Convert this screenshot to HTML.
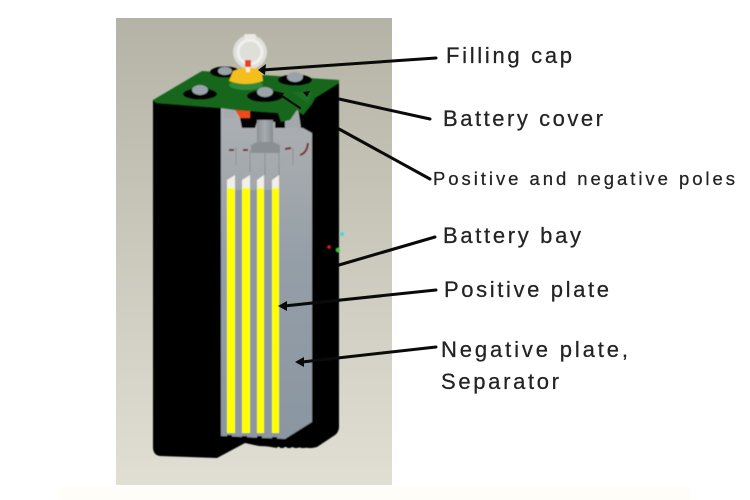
<!DOCTYPE html>
<html lang="en">
<head>
<meta charset="utf-8">
<title>Battery diagram</title>
<style>
html,body{margin:0;padding:0;background:#fff;width:750px;height:500px;overflow:hidden}
svg{display:block}
text{font-family:"Liberation Sans",sans-serif;fill:#232323;stroke:#232323;stroke-width:0.25}
</style>
</head>
<body>
<svg width="750" height="500" viewBox="0 0 750 500" xmlns="http://www.w3.org/2000/svg">
<defs>
<linearGradient id="bg" x1="0" y1="0" x2="0" y2="1">
<stop offset="0" stop-color="#b5b3a6"/>
<stop offset="0.45" stop-color="#c9c7ba"/>
<stop offset="1" stop-color="#e1ded4"/>
</linearGradient>
<linearGradient id="plate" gradientUnits="userSpaceOnUse" x1="0" y1="108" x2="0" y2="439">
<stop offset="0" stop-color="#acb0b3"/>
<stop offset="0.22" stop-color="#a3a8ac"/>
<stop offset="0.45" stop-color="#959fa8"/>
<stop offset="1" stop-color="#8a96a1"/>
</linearGradient>
<linearGradient id="post" x1="0" y1="0" x2="1" y2="0">
<stop offset="0" stop-color="#8d9298"/>
<stop offset="0.5" stop-color="#a6abb0"/>
<stop offset="1" stop-color="#878c92"/>
</linearGradient>
<filter id="soft" x="-5%" y="-5%" width="110%" height="110%"><feGaussianBlur stdDeviation="0.5"/></filter>
</defs>
<rect x="60" y="487" width="630" height="13" fill="#fffdf8"/>
<rect x="116" y="18" width="276" height="467" fill="url(#bg)"/>

<g filter="url(#soft)">
<!-- black body -->
<path d="M153 100 L339 82 L339 428 Q338 433 335 435 L317 447 L312 448 L259 446 L245 443 L217 458 L160 456 Q153 455 153 447 Z" fill="#000"/>

<!-- grey interior -->
<path d="M221 108 L312 108 L312 422 L285 439 L221 436 Z" fill="url(#plate)"/>
<!-- black space under the cover -->
<path d="M236 108 L312 108 L312 133 L303 128 L275 128 L275 122 L257 122 L255 128 L242 128 L240 118 Z" fill="#000"/>
<path d="M224 106 L234 106 L235 118 L224 118 Z" fill="#a6aaae"/>
<path d="M285 112 L298 108 L301 128 L285 128 Z" fill="#a3a8ac"/>
<path d="M235 110 L250 111 L250 118 L240 118 Z" fill="#f0491b"/>
<rect x="257" y="120" width="16" height="30" fill="url(#post)"/>
<path d="M251 145 L257 142 H273 L280 145 V153 H251 Z" fill="#8a8f94"/>
<g stroke="#8c9196" stroke-width="1" fill="none">
<path d="M236 147 V165 M250 150 V172 M265 152 V175 M279 152 V175 M293 148 V165"/>
</g>
<g fill="none" stroke-width="2">
<path d="M229 150 L234 150 M243 150 L248 150 M285 149 L291 148" stroke="#6a2d2d"/>
<path d="M300 155 Q307 153 308 143" stroke="#7a2a25"/>
</g>
<g fill="#8d979f">
<rect x="235" y="190" width="7" height="246"/>
<rect x="250" y="190" width="7" height="246"/>
<rect x="264" y="190" width="8" height="246"/>
</g>

<!-- plates -->
<g fill="#ffff00">
<rect x="227" y="188" width="8" height="245"/>
<rect x="242" y="188" width="8" height="245"/>
<rect x="257" y="188" width="7" height="245"/>
<rect x="272" y="188" width="7" height="245"/>
</g>
<g fill="#f1efe6">
<path d="M227 180 L235 175 L235 188 L227 188 Z"/>
<path d="M242 180 L250 175 L250 188 L242 188 Z"/>
<path d="M257 180 L264 175 L264 188 L257 188 Z"/>
<path d="M272 180 L279 175 L279 188 L272 188 Z"/>
</g>
<!-- plate foot notches -->
<g fill="#000">
<rect x="227" y="435" width="5" height="3"/>
<rect x="242" y="436" width="5" height="3"/>
<rect x="257" y="436" width="5" height="3"/>
<rect x="272" y="437" width="5" height="3"/>
</g>
<!-- bottom teeth -->
<path d="M259 445 h53 v3 h-4 v-1 h-3 v1 h-4 v-1 h-3 v1 h-4 v-1 h-3 v1 h-4 v-1 h-3 v1 h-4 v-1 h-3 v1 z" fill="#000"/>

<!-- cover -->
<path d="M153 100 L202 71 L339 80 L339 83 L315 98 L312 104 L303 115 L297 110 L290 120 L281 122 L278 113 L235 110 L220 108 L156 103 Z" fill="#14661f"/>
<path d="M292 92 L312 92 L308 104 L303 100 Z" fill="#1b6f28"/>
<!-- posts -->
<ellipse cx="225" cy="72" rx="15" ry="5.500" fill="#000"/>
<ellipse cx="225" cy="71" rx="7" ry="4" fill="#9aa3aa"/>
<ellipse cx="295" cy="80" rx="17" ry="5.500" fill="#000"/>
<ellipse cx="295" cy="77" rx="8" ry="5" fill="#9aa3aa"/>
<ellipse cx="200" cy="94" rx="17" ry="5.500" fill="#000"/>
<ellipse cx="200" cy="90" rx="8" ry="5" fill="#9aa3aa"/>
<ellipse cx="265" cy="96" rx="18" ry="6" fill="#000"/>
<ellipse cx="265" cy="92" rx="8" ry="5" fill="#9aa3aa"/>
<ellipse cx="246" cy="85" rx="17" ry="5" fill="#2f8a37"/>

<!-- filling cap -->
<circle cx="250" cy="52" r="17" fill="#dfdfda"/>
<circle cx="250" cy="52" r="12" fill="none" stroke="#f0f0ec" stroke-width="3"/>
<rect x="244" y="34" width="12" height="5" rx="2" fill="#e8e8e4"/>
<path d="M229 81 L233 71 L242 68 H255 L260 70 L262 74 L263 81 Q246 87 229 81 Z" fill="#f4bf1b"/>
<rect x="245" y="60" width="6" height="7" fill="#e8431c"/>
<rect x="246" y="67" width="4" height="5" fill="#f5efdc"/>

<!-- dots -->
<circle cx="342" cy="234" r="2" fill="#3fdcd0"/>
<circle cx="329" cy="247" r="1.500" fill="#d8212c"/>
<circle cx="338" cy="250" r="2" fill="#37c83c"/>
</g>

<!-- connectors -->
<g stroke="#0a0a0a" stroke-width="3" fill="none" stroke-linecap="round">
<path d="M436 58 L262 70"/>
<path d="M339 99 L430 119"/>
<path d="M339 129 L430 179"/>
<path d="M339 265 L435 237"/>
<path d="M284 306 L436 290"/>
<path d="M302 362 L436 347"/>
<path d="M279 94 L300 108" stroke-width="2"/>
</g>
<g fill="#0a0a0a">
<path d="M258 70 L266 64 L265 75 Z"/>
<path d="M278 306 L287 301 L287 311 Z"/>
<path d="M295 362 L304 357 L304 367 Z"/>
<path d="M303 92 L310 91 L307 97 Z"/>
<path d="M277 92 L284 93 L281 98 Z"/>
</g>

<!-- labels -->
<text x="446" y="63" font-size="22" textLength="126" lengthAdjust="spacing">Filling cap</text>
<text x="443" y="126" font-size="22" textLength="160" lengthAdjust="spacing">Battery cover</text>
<text x="433" y="185" font-size="18.500" textLength="302" lengthAdjust="spacing">Positive and negative poles</text>
<text x="443" y="243" font-size="22" textLength="138" lengthAdjust="spacing">Battery bay</text>
<text x="444" y="297" font-size="22" textLength="165" lengthAdjust="spacing">Positive plate</text>
<text x="441" y="357" font-size="22" textLength="187" lengthAdjust="spacing">Negative plate,</text>
<text x="441" y="389" font-size="22" textLength="118" lengthAdjust="spacing">Separator</text>
</svg>
</body>
</html>
